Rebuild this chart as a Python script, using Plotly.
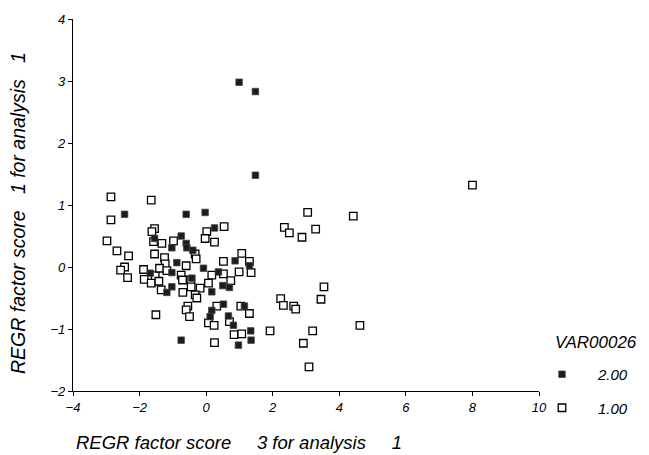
import plotly.graph_objects as go

# group 1.00 (open squares)
x1 = [3.05, 4.42, 2.35, 2.5, 2.88, 3.29, 3.54, 2.24, 2.32, 3.45, 2.63, 2.69, 1.92, 3.2, 4.62, 2.92, 3.09, 8.0,
      -2.86, -1.65, -2.86, -2.98, -2.68, -2.33, -2.45, -2.57, -2.36, -1.88, -1.86, -1.65, -1.55, -1.63, -1.58,
      -1.55, -1.33, -1.25, -1.23, -1.53, -1.4, -1.42, -1.35, -1.51, -0.98, -1.18, -0.75, -0.6, -0.71, -0.7,
      -0.55, -0.6, -0.5, -0.33, -0.3, 0.02, -0.03, 0.25, 0.54, 0.17, 0.07, -0.18, -0.33, -0.28, -0.46, -0.45,
      0.52, 0.52, 0.74, 1.07, 0.99, 1.3, 1.35, 0.32, 1.04, 1.3, 0.07, 0.24, 0.7, 0.84, 1.07, 0.25]
y1 = [0.88, 0.82, 0.64, 0.55, 0.48, 0.61, -0.32, -0.51, -0.62, -0.52, -0.63, -0.68, -1.03, -1.03, -0.94, -1.23, -1.61, 1.32,
      1.13, 1.08, 0.76, 0.42, 0.26, 0.18, 0.0, -0.05, -0.17, -0.04, -0.2, -0.26, 0.62, 0.57, 0.41,
      0.21, 0.38, 0.15, 0.05, -0.14, -0.02, -0.23, -0.37, -0.77, 0.42, -0.06, -0.13, 0.02, -0.21, -0.41,
      -0.63, -0.69, -0.8, 0.21, 0.13, 0.57, 0.46, 0.4, 0.65, -0.13, -0.26, -0.34, -0.45, -0.5, -0.21, -0.32,
      0.09, -0.11, -0.22, 0.22, -0.08, 0.09, -0.09, -0.63, -0.63, -0.75, -0.9, -0.94, -0.88, -1.09, -1.08, -1.22]

# group 2.00 (filled)
x2 = [0.99, 1.48, 1.48, -2.45, -0.6, -0.03, 0.25, -0.75, -0.6, -1.03, -0.58, -0.4, -1.55, -0.88, -0.08, 0.37,
      0.87, 1.3, -1.68, -1.03, -1.03, -1.18, -0.43, 0.17, 0.5, 0.7, 0.52, 1.15, 0.17, 0.12, 0.67, 0.82, 1.34,
      1.35, 0.97, -0.75]
y2 = [2.98, 2.83, 1.48, 0.85, 0.85, 0.88, 0.63, 0.5, 0.38, 0.31, 0.31, 0.27, 0.46, 0.07, -0.02, -0.08,
      0.1, 0.02, -0.1, -0.09, -0.32, -0.41, -0.18, -0.4, -0.3, -0.33, -0.6, -0.63, -0.7, -0.8, -0.79, -0.94, -1.03,
      -1.18, -1.26, -1.18]

x_ticks = [-4, -2, 0, 2, 4, 6, 8, 10]
y_ticks = [-2, -1, 0, 1, 2, 3, 4]

font = "Liberation Sans, Arial, sans-serif"

# screen-pixel plot box
X0, X1, Y0, Y1 = 73, 539, 19, 391
def px(X):
    return (X - X0) / (X1 - X0)
def py(Y):
    return (Y1 - Y) / (Y1 - Y0)

fig = go.Figure()
fig.add_trace(go.Scatter(
    x=x1, y=y1, mode="markers", name="<i>1.00</i>", legendrank=2, legendgroup="a",
    marker=dict(symbol="square", size=7.5, color="white", line=dict(color="black", width=1.3)),
))
fig.add_trace(go.Scatter(
    x=x2, y=y2, mode="markers", name="<i>2.00</i>", legendrank=1, legendgroup="b",
    marker=dict(symbol="square", size=6.5, color="#1c1c1c", line=dict(color="#444", width=0.8)),
))

axis_common = dict(
    showgrid=False, zeroline=False, showline=True, linecolor="black", linewidth=1.2,
    ticks="outside", ticklen=4, tickcolor="black", mirror=False,
    tickfont=dict(family=font, size=13, color="black", style="italic"),
)
fig.update_xaxes(range=[-4, 10], tickvals=x_ticks, **axis_common)
fig.update_yaxes(range=[-2, 4], tickvals=y_ticks, **axis_common)

spx = "&nbsp;" * 5
spy = "&nbsp;" * 3
fig.update_layout(
    width=649, height=455,
    margin=dict(l=65, r=118, t=11, b=72, autoexpand=False),
    plot_bgcolor="white", paper_bgcolor="white",
    font=dict(family=font, color="black"),
    showlegend=True,
    legend=dict(
        x=px(526), y=py(358), xanchor="left", yanchor="top",
        font=dict(size=15, family=font), bgcolor="rgba(0,0,0,0)",
        itemwidth=62, tracegroupgap=11, traceorder="grouped",
    ),
    annotations=[
        dict(text=f"<i>REGR factor score{spx}3 for analysis{spx}1</i>", x=px(74), y=py(443),
             xref="paper", yref="paper", showarrow=False, font=dict(size=18.5, family=font),
             xanchor="left", yanchor="middle"),
        dict(text=f"<i>REGR factor score{spy}1 for analysis{spy}1</i>", x=px(18), y=py(213),
             xref="paper", yref="paper", showarrow=False, font=dict(size=19.5, family=font),
             textangle=-90, xanchor="center", yanchor="middle"),
        dict(text="<i>VAR00026</i>", x=px(553), y=py(342), xref="paper", yref="paper",
             showarrow=False, font=dict(size=17, family=font), xanchor="left", yanchor="middle"),
    ],
)
fig.write_html("out.html")
